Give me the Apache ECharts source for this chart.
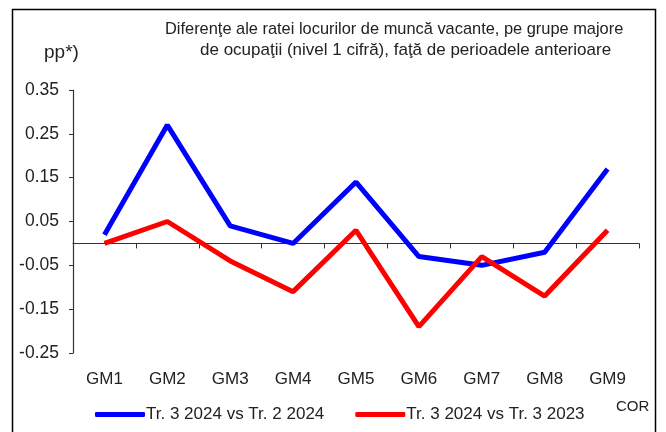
<!DOCTYPE html>
<html>
<head>
<meta charset="utf-8">
<script src="https://cdn.jsdelivr.net/npm/echarts@6/dist/echarts.min.js"></script>
<style>
  html, body { margin: 0; padding: 0; background: #fff; }
  #chart { width: 666px; height: 432px; }
</style>
</head>
<body>
<div id="chart"></div>
<script>
// categorii (grupe majore COR)
var categories = ["GM1", "GM2", "GM3", "GM4", "GM5", "GM6", "GM7", "GM8", "GM9"];
// Tr. 3 2024 vs Tr. 2 2024
var vsPrevQuarter = [0.02, 0.27, 0.04, 0.00, 0.14, -0.03, -0.05, -0.02, 0.17];
// Tr. 3 2024 vs Tr. 3 2023
var vsPrevYear = [0.00, 0.05, -0.04, -0.11, 0.03, -0.19, -0.03, -0.12, 0.03];
var seriesNames = ["Tr. 3 2024 vs Tr. 2 2024", "Tr. 3 2024 vs Tr. 3 2023"];
var yMin = -0.25, yMax = 0.35, yStep = 0.1;

var font = "'Liberation Sans Narrow', 'Liberation Sans', Arial, sans-serif";
var myChart = echarts.init(document.getElementById("chart"));
myChart.setOption({
  animation: false,
  textStyle: { fontFamily: font, color: "#222" },
  title: [
    {
      text: "Diferenţe ale ratei locurilor de muncă vacante, pe grupe majore",
      left: 160, top: 16,
      textStyle: { fontFamily: font, fontSize: 16.4, fontWeight: "normal", color: "#222" }
    },
    {
      text: "de ocupaţii (nivel 1 cifră), faţă de perioadele anterioare",
      left: 195, top: 37,
      textStyle: { fontFamily: font, fontSize: 17, fontWeight: "normal", color: "#222" }
    },
    {
      text: "pp*)",
      left: 39, top: 38,
      textStyle: { fontFamily: font, fontSize: 19, fontWeight: "normal", color: "#222" }
    },
    {
      text: "COR",
      left: 611, top: 394,
      textStyle: { fontFamily: font, fontSize: 15, fontWeight: "normal", color: "#222" }
    }
  ],
  graphic: [
    {
      type: "rect",
      shape: { x: 12.5, y: 9.5, width: 643, height: 440 },
      style: { fill: null, stroke: "#000", lineWidth: 1.5 },
      silent: true
    }
  ],
  legend: {
    left: 90, top: 401,
    itemGap: 31,
    itemWidth: 50,
    itemHeight: 5,
    textStyle: { fontFamily: font, fontSize: 17, color: "#222", padding: [0, 0, 0, -4] },
    data: [
      { name: seriesNames[0], icon: "roundRect" },
      { name: seriesNames[1], icon: "roundRect" }
    ]
  },
  grid: { left: 73, right: 27, top: 90, bottom: 79, containLabel: false },
  xAxis: [
    {
      type: "category",
      data: categories,
      position: "bottom",
      axisLine: { show: false, onZero: false },
      axisTick: { show: false },
      axisLabel: { fontSize: 17, color: "#222", margin: 18, fontFamily: font }
    },
    {
      // linia de zero (axa a doua e mutata sus de echarts, deci ticks "inside" = in jos)
      type: "category",
      data: categories,
      axisLine: { onZero: true, lineStyle: { color: "#333", width: 1.2 } },
      axisTick: { show: true, inside: true, length: 5, lineStyle: { color: "#333" } },
      axisLabel: { show: false }
    }
  ],
  yAxis: {
    type: "value",
    min: yMin,
    max: yMax,
    interval: yStep,
    axisLine: { show: true, lineStyle: { color: "#333", width: 1.2 } },
    axisTick: { show: true, length: 4, lineStyle: { color: "#333" } },
    splitLine: { show: false },
    axisLabel: {
      fontSize: 17.5, color: "#222", margin: 14, fontFamily: font,
      formatter: function (v) { return v.toFixed(2); }
    }
  },
  series: [
    {
      name: seriesNames[0],
      type: "line",
      data: vsPrevQuarter,
      symbol: "none",
      lineStyle: { color: "#0000ff", width: 5 },
      itemStyle: { color: "#0000ff" }
    },
    {
      name: seriesNames[1],
      type: "line",
      data: vsPrevYear,
      symbol: "none",
      lineStyle: { color: "#ff0000", width: 5 },
      itemStyle: { color: "#ff0000" }
    }
  ]
});
window.onresize = function () {
  myChart.resize();
};
</script>
</body>
</html>
